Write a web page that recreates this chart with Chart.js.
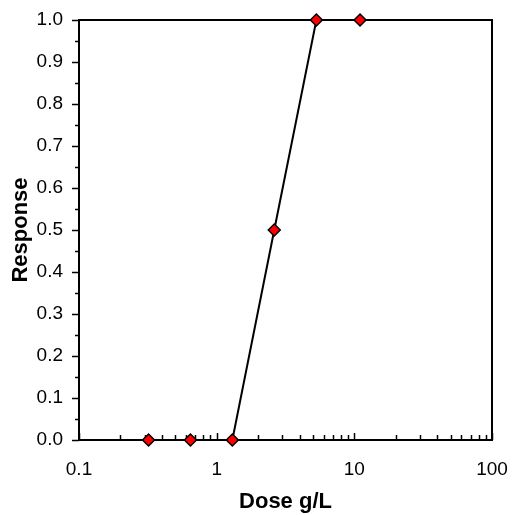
<!DOCTYPE html>
<html>
<head>
<meta charset="utf-8">
<script src="https://cdn.jsdelivr.net/npm/chart.js@4/dist/chart.umd.min.js"></script>
<style>
  html, body { margin: 0; padding: 0; background: #ffffff; }
  #wrap { width: 512px; height: 515px; position: relative; }
</style>
</head>
<body>
<div id="wrap"><canvas id="c"></canvas></div>
<script>
// dose (g/L) vs response
var doses = [0.32, 0.645, 1.3, 2.62, 5.3, 11.0];
var responses = [0, 0, 0, 0.5, 1.0, 1.0];
var xTickValues = [0.1, 1, 10, 100];
var xTitle = 'Dose g/L';
var yTitle = 'Response';

var FONT = "'Liberation Sans', Arial, sans-serif";

// frame + tick marks (y ticks point outward, x ticks point inward)
var frameTicks = {
    id: 'frameTicks',
    beforeDatasetsDraw: function(chart) {
        var ctx = chart.ctx;
        var a = chart.chartArea;
        var xs = chart.scales.x;
        var ys = chart.scales.y;
        ctx.save();
        ctx.strokeStyle = '#000000';
        ctx.lineWidth = 2;
        ctx.strokeRect(a.left, a.top, a.right - a.left, a.bottom - a.top);

        ctx.lineWidth = 1.5;
        ctx.beginPath();
        for (var i = 0; i <= 20; i++) {
            var py = Math.round(ys.getPixelForValue(i * 0.05)) + 0.5;
            var len = (i % 2 === 0) ? 7 : 4;
            ctx.moveTo(a.left, py);
            ctx.lineTo(a.left - len, py);
        }
        var decades = [0.1, 1, 10];
        decades.forEach(function(d) {
            for (var m = 1; m <= 9; m++) {
                var px = Math.round(xs.getPixelForValue(d * m)) + 0.5;
                var l = (m === 1) ? 7 : 5;
                ctx.moveTo(px, a.bottom);
                ctx.lineTo(px, a.bottom - l);
            }
        });
        var pEnd = Math.round(xs.getPixelForValue(100)) + 0.5;
        ctx.moveTo(pEnd, a.bottom);
        ctx.lineTo(pEnd, a.bottom - 7);
        ctx.stroke();
        ctx.restore();
    }
};

var ctx = document.getElementById('c').getContext('2d');
new Chart(ctx, {
    type: 'scatter',
    data: {
        datasets: [{
            label: 'Response',
            data: doses.map(function(d, i) { return { x: d, y: responses[i] }; }),
            showLine: true,
            borderColor: '#000000',
            borderWidth: 2,
            pointStyle: 'rectRot',
            pointRadius: 6,
            pointHoverRadius: 6,
            pointBackgroundColor: '#ff0000',
            pointBorderColor: '#000000',
            pointBorderWidth: 1.5,
            clip: false
        }]
    },
    options: {
        responsive: true,
        maintainAspectRatio: false,
        animation: false,
        layout: { padding: { top: 20, right: 20, left: 0, bottom: 0 } },
        plugins: {
            legend: { display: false },
            tooltip: { enabled: false }
        },
        scales: {
            x: {
                type: 'logarithmic',
                min: 0.1,
                max: 100,
                grid: { display: false, drawTicks: false },
                border: { display: false },
                afterBuildTicks: function(scale) {
                    scale.ticks = xTickValues.map(function(v) { return { value: v }; });
                },
                afterFit: function(scale) {
                    scale.height = 75;
                    scale.paddingLeft = 0;
                    scale.paddingRight = 0;
                },
                ticks: {
                    autoSkip: false,
                    maxRotation: 0,
                    padding: 18,
                    color: '#000000',
                    font: { family: FONT, size: 19 },
                    callback: function(v) { return String(v); }
                },
                title: {
                    display: true,
                    text: xTitle,
                    color: '#000000',
                    font: { family: FONT, size: 22, weight: 'bold' },
                    padding: { top: 0, bottom: 0 }
                }
            },
            y: {
                min: 0,
                max: 1,
                grid: { display: false, drawTicks: false },
                border: { display: false },
                afterFit: function(scale) {
                    scale.width = 79;
                    scale.paddingTop = 0;
                    scale.paddingBottom = 0;
                },
                ticks: {
                    stepSize: 0.1,
                    padding: 16,
                    color: '#000000',
                    font: { family: FONT, size: 19 },
                    callback: function(v) { return v.toFixed(1); }
                },
                title: {
                    display: true,
                    text: yTitle,
                    color: '#000000',
                    font: { family: FONT, size: 22, weight: 'bold' },
                    padding: { top: 8, bottom: 8 }
                }
            }
        }
    },
    plugins: [frameTicks]
});
</script>
</body>
</html>
